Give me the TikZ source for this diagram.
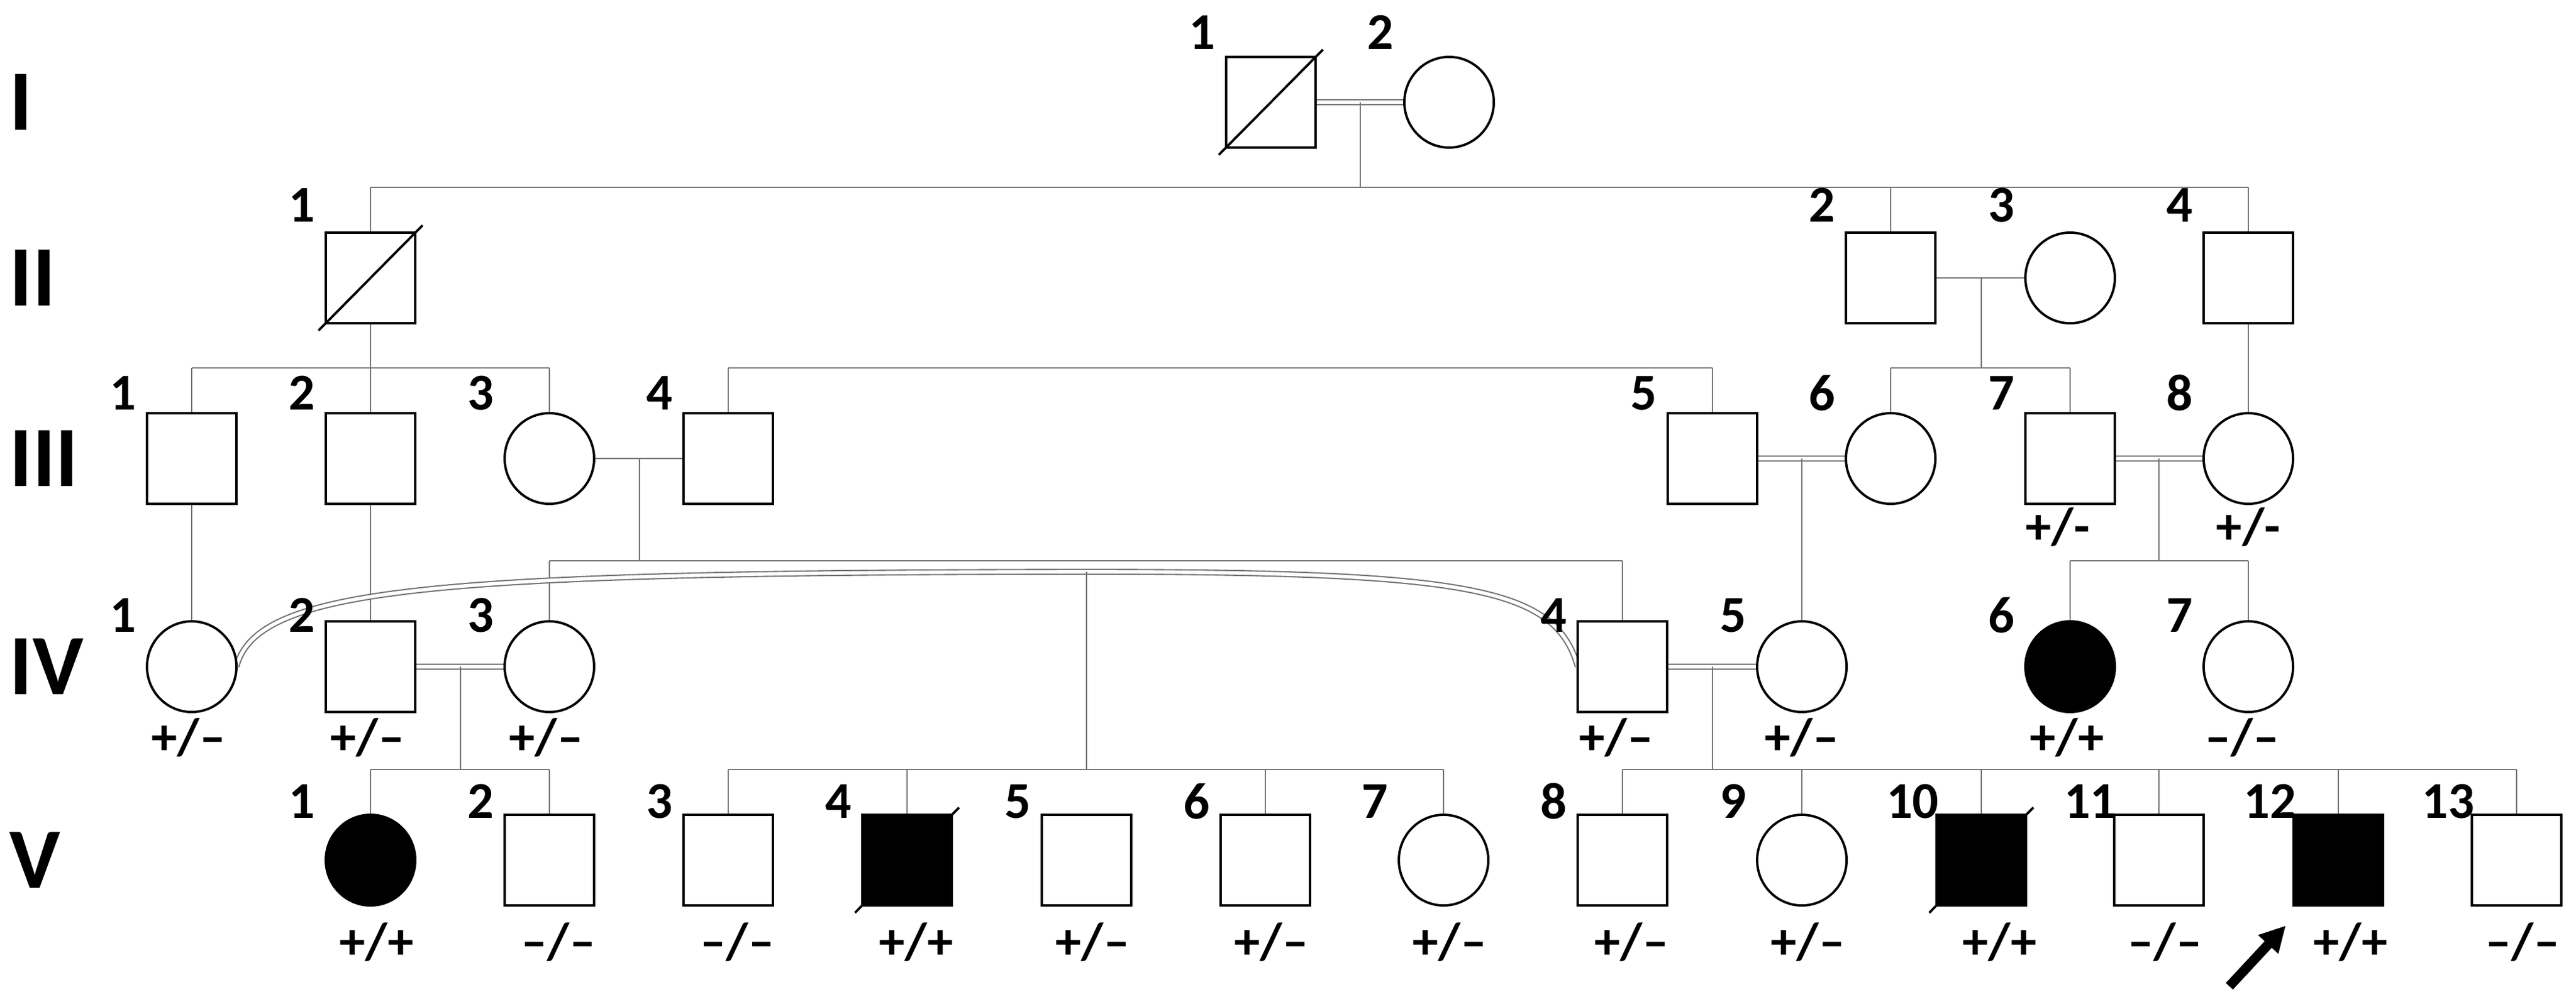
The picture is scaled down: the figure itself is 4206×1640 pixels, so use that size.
\documentclass[tikz,border=0pt]{standalone}
\usepackage{fontspec}
\setmainfont{Carlito}
\usetikzlibrary{shapes.geometric,arrows.meta}
\tikzset{
 sq/.style={draw=black,line width=1.1pt,rectangle,minimum width=1.46cm,minimum height=1.48cm,inner sep=0pt,fill=white},
 ci/.style={draw=black,line width=1.1pt,ellipse,minimum width=1.46cm,minimum height=1.48cm,inner sep=0pt,fill=white},
 aff/.style={fill=black},
 ln/.style={draw=black!55,line width=0.8pt},
 dbl/.style={draw=black!55,line width=0.6pt,double=white,double distance=1.6pt},
 num/.style={font=\bfseries\fontsize{24}{24}\selectfont,inner sep=0pt},
 gt/.style={font=\bfseries\fontsize{24}{24}\selectfont,inner sep=0pt},
 gen/.style={font=\bfseries\fontsize{40}{40}\selectfont,inner sep=0pt,anchor=west},
 slash/.style={draw=black,line width=1.1pt}
}
% \ind{name}{x}{y}{style}{number}{label height above top}
\newcommand{\ind}[6]{\node[#4] (#1) at (#2,#3) {};
 \node[num] (#1n) at ([xshift=-1.12cm,yshift=0.74cm+#6]#1.center) {#5};}
\newcommand{\gtl}[4]{\node[gt] (#1g) at ([xshift=#3,yshift=-0.74cm-#4]#1.center) {#2};}
\begin{document}
\begin{tikzpicture}[x=0.01cm,y=-0.01cm]
\useasboundingbox (0,0) rectangle (4206,1640);
% generation labels
\node[gen] (gI) at (15,167) {I};
\node[gen] (gII) at (15,454) {II};
\node[gen] (gIII) at (15,749) {III};
\node[gen] (gIV) at (15,1089) {IV};
\node[gen] (gV) at (15,1405) {V};

\coordinate (cI) at (2221,167);
\coordinate (sII) at (2221,306);
\coordinate (sIIl) at (605,306);
\coordinate (sIIr) at (3671,306);

% I
\coordinate (I1e) at (2148,167); \coordinate (I2w) at (2293,167);
\draw[dbl] (I1e) -- (I2w);
\draw[ln] (cI) -- (sII);
\draw[ln] (sIIl) -- (sIIr);
\draw[ln] (sIIl) -- (605,380);
\draw[ln] (3087,306) -- (3087,380);
\draw[ln] (3671,306) -- (3671,380);
% II-2 -- II-3
\draw[ln] (3160,454) -- (3307,454);
\draw[ln] (3235,454) -- (3235,601);
\draw[ln] (3087,601) -- (3380,601);
\draw[ln] (3087,601) -- (3087,675);
\draw[ln] (3380,601) -- (3380,675);
% II-1 children
\draw[ln] (605,528) -- (605,675);
\draw[ln] (313,601) -- (897,601);
\draw[ln] (313,601) -- (313,675);
\draw[ln] (897,601) -- (897,675);
% III-4 / III-5 sibship
\draw[ln] (1189,601) -- (2796,601);
\draw[ln] (1189,601) -- (1189,675);
\draw[ln] (2796,601) -- (2796,675);
% II-4 to III-8
\draw[ln] (3671,528) -- (3671,675);
% III to IV
\draw[ln] (313,823) -- (313,1015);
\draw[ln] (605,823) -- (605,1015);
\draw[ln] (970,749) -- (1116,749);
\draw[ln] (1044,749) -- (1044,916);
\draw[ln] (897,916) -- (2649,916);
\draw[ln] (897,916) -- (897,1015);
\draw[ln] (2649,916) -- (2649,1015);
\draw[dbl] (2869,749) -- (3015,749);
\draw[ln] (2942,749) -- (2942,1015);
\draw[dbl] (3453,749) -- (3598,749);
\draw[ln] (3525,749) -- (3525,916);
\draw[ln] (3380,916) -- (3671,916);
\draw[ln] (3380,916) -- (3380,1015);
\draw[ln] (3671,916) -- (3671,1015);
% consanguineous curve IV-1 -- IV-4
\coordinate (cv) at (1774,934);
\draw[dbl] (386,1089) .. controls (420,960) and (700,935) .. (cv) .. controls (2400,934) and (2540,960) .. (2576,1089);
\draw[ln] (cv) -- (1774,1257);
\draw[ln] (1189,1257) -- (2357,1257);
\foreach \x in {1189,1481,2066,2357} \draw[ln] (\x,1257) -- (\x,1330);
% IV-2 = IV-3
\draw[dbl] (678,1089) -- (824,1089);
\draw[ln] (752,1089) -- (752,1257);
\draw[ln] (605,1257) -- (897,1257);
\draw[ln] (605,1257) -- (605,1330);
\draw[ln] (897,1257) -- (897,1330);
% IV-4 = IV-5
\draw[dbl] (2722,1089) -- (2869,1089);
\draw[ln] (2796,1089) -- (2796,1257);
\draw[ln] (2649,1257) -- (4109,1257);
\foreach \x in {2649,2942,3235,3525,3818,4109} \draw[ln] (\x,1257) -- (\x,1330);

% individuals
\ind{I1}{2075}{167}{sq}{1}{0.4cm}
\ind{I2}{2366}{167}{ci}{2}{0.4cm}
\ind{II1}{605}{454}{sq}{1}{0.45cm}
\ind{II2}{3087}{454}{sq}{2}{0.45cm}
\ind{II3}{3380}{454}{ci}{3}{0.45cm}
\ind{II4}{3671}{454}{sq}{4}{0.45cm}
\ind{III1}{313}{749}{sq}{1}{0.33cm}
\ind{III2}{605}{749}{sq}{2}{0.33cm}
\ind{III3}{897}{749}{ci}{3}{0.33cm}
\ind{III4}{1189}{749}{sq}{4}{0.33cm}
\ind{III5}{2796}{749}{sq}{5}{0.33cm}
\ind{III6}{3087}{749}{ci}{6}{0.33cm}
\ind{III7}{3380}{749}{sq}{7}{0.33cm}
\ind{III8}{3671}{749}{ci}{8}{0.33cm}
\ind{IV1}{313}{1089}{ci}{1}{0.1cm}
\ind{IV2}{605}{1089}{sq}{2}{0.1cm}
\ind{IV3}{897}{1089}{ci}{3}{0.1cm}
\ind{IV4}{2649}{1089}{sq}{4}{0.1cm}
\ind{IV5}{2942}{1089}{ci}{5}{0.1cm}
\ind{IV6}{3380}{1089}{ci,aff}{6}{0.1cm}
\ind{IV7}{3671}{1089}{ci}{7}{0.1cm}
\ind{V1}{605}{1405}{ci,aff}{1}{0.22cm}
\ind{V2}{897}{1405}{sq}{2}{0.22cm}
\ind{V3}{1189}{1405}{sq}{3}{0.22cm}
\ind{V4}{1481}{1405}{sq,aff}{4}{0.22cm}
\ind{V5}{1774}{1405}{sq}{5}{0.22cm}
\ind{V6}{2066}{1405}{sq}{6}{0.22cm}
\ind{V7}{2357}{1405}{ci}{7}{0.22cm}
\ind{V8}{2649}{1405}{sq}{8}{0.22cm}
\ind{V9}{2942}{1405}{ci}{9}{0.22cm}
\ind{V10}{3235}{1405}{sq,aff}{10}{0.22cm}
\ind{V11}{3525}{1405}{sq}{11}{0.22cm}
\ind{V12}{3818}{1405}{sq,aff}{12}{0.22cm}
\ind{V13}{4109}{1405}{sq}{13}{0.22cm}

% deceased slashes
\foreach \n in {I1,II1,V4,V10}
  \draw[slash] ([xshift=-0.1cm,yshift=-0.1cm]\n.south west) -- ([xshift=0.1cm,yshift=0.1cm]\n.north east);

% genotypes
\gtl{III7}{+/-}{-0.2cm}{0.38cm}
\gtl{III8}{+/-}{0cm}{0.38cm}
\gtl{IV1}{+/–}{-0.05cm}{0.42cm}
\gtl{IV2}{+/–}{-0.05cm}{0.42cm}
\gtl{IV3}{+/–}{-0.05cm}{0.42cm}
\gtl{IV4}{+/–}{-0.1cm}{0.42cm}
\gtl{IV5}{+/–}{0cm}{0.42cm}
\gtl{IV6}{+/+}{-0.05cm}{0.42cm}
\gtl{IV7}{–/–}{-0.1cm}{0.42cm}
\gtl{V1}{+/+}{0.1cm}{0.6cm}
\gtl{V2}{–/–}{0.15cm}{0.6cm}
\gtl{V3}{–/–}{0.15cm}{0.6cm}
\gtl{V4}{+/+}{0.15cm}{0.6cm}
\gtl{V5}{+/–}{0.1cm}{0.6cm}
\gtl{V6}{+/–}{0.1cm}{0.6cm}
\gtl{V7}{+/–}{0.1cm}{0.6cm}
\gtl{V8}{+/–}{0.15cm}{0.6cm}
\gtl{V9}{+/–}{0.1cm}{0.6cm}
\gtl{V10}{+/+}{0.3cm}{0.6cm}
\gtl{V11}{–/–}{0.1cm}{0.6cm}
\gtl{V12}{+/+}{0.2cm}{0.6cm}
\gtl{V13}{–/–}{0.1cm}{0.6cm}

% proband arrow
\coordinate (arS) at (3640,1611);
\coordinate (arE) at (3732,1512);
\draw[line width=4.5pt,-{Triangle[length=0.42cm,width=0.42cm]}] (arS) -- (arE);
\end{tikzpicture}
\end{document}
